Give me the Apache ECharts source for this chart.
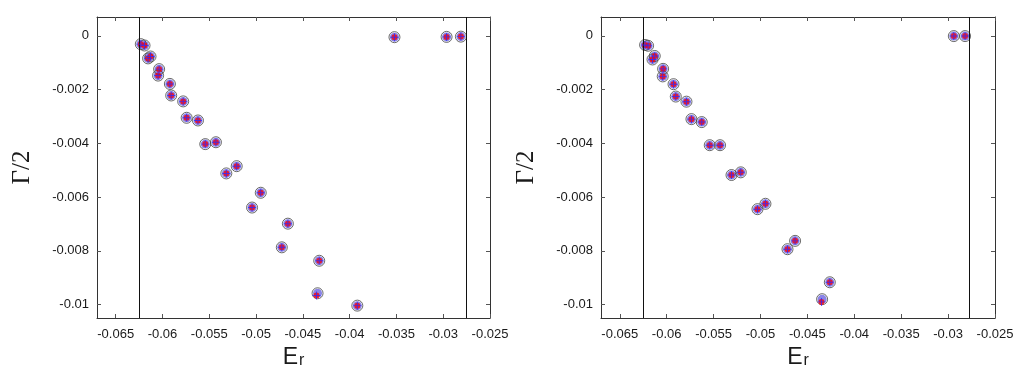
<!DOCTYPE html>
<html>
<head>
<meta charset="utf-8">
<script src="https://cdn.jsdelivr.net/npm/echarts@6/dist/echarts.min.js"></script>
<style>html,body{margin:0;padding:0;background:#fff}#c{width:1024px;height:376px}</style>
</head>
<body>
<div id="c"></div>
<script>
// ---- data ----
const leftEr = [-0.06232,-0.06192,-0.06154,-0.06128,-0.06036,-0.06047,-0.05921,-0.05907,-0.05779,-0.05742,-0.05621,-0.05543,-0.05429,-0.05318,-0.05207,-0.05043,-0.0495,-0.04725,-0.0466,-0.04354,-0.04325,-0.03918,-0.03521,-0.02964,-0.02811];
const leftG  = [-0.00031,-0.00036,-0.00084,-0.00077,-0.00124,-0.00148,-0.00179,-0.00222,-0.00244,-0.00305,-0.00315,-0.00403,-0.00396,-0.00512,-0.00485,-0.00639,-0.00584,-0.00787,-0.00699,-0.00966,-0.00837,-0.01004,-0.00005,-0.00004,-0.00003];
const leftCircEr = [-0.06232,-0.06192,-0.06154,-0.06128,-0.06036,-0.06047,-0.05921,-0.05907,-0.05779,-0.05742,-0.05621,-0.05543,-0.05429,-0.05318,-0.05207,-0.05043,-0.0495,-0.04725,-0.0466,-0.04343,-0.04325,-0.03918,-0.03521,-0.02964,-0.02811];
const leftCircG  = [-0.00031,-0.00036,-0.00084,-0.00077,-0.00124,-0.00148,-0.00179,-0.00222,-0.00244,-0.00305,-0.00315,-0.00403,-0.00396,-0.00512,-0.00485,-0.00639,-0.00584,-0.00787,-0.00699,-0.00958,-0.00837,-0.01004,-0.00005,-0.00004,-0.00003];
const rightEr = [-0.0623,-0.06198,-0.06151,-0.06127,-0.06038,-0.06042,-0.05927,-0.05903,-0.05789,-0.05736,-0.05626,-0.05541,-0.05431,-0.05309,-0.0521,-0.05032,-0.04947,-0.04712,-0.04631,-0.0435,-0.04261,-0.02939,-0.02819];
const rightG  = [-0.00034,-0.00037,-0.00088,-0.00075,-0.00123,-0.00151,-0.0018,-0.00226,-0.00245,-0.0031,-0.00321,-0.00407,-0.00407,-0.00518,-0.00508,-0.00645,-0.00625,-0.00794,-0.00763,-0.0099,-0.00917,-0.00001,-0.00001];
const rightCircEr = [-0.0623,-0.06198,-0.06151,-0.06127,-0.06038,-0.06042,-0.05927,-0.05903,-0.05789,-0.05736,-0.05626,-0.05541,-0.05431,-0.05309,-0.0521,-0.05032,-0.04947,-0.04712,-0.04631,-0.04343,-0.04261,-0.02939,-0.02819];
const rightCircG  = [-0.00034,-0.00037,-0.00088,-0.00075,-0.00123,-0.00151,-0.0018,-0.00226,-0.00245,-0.0031,-0.00321,-0.00407,-0.00407,-0.00518,-0.00508,-0.00645,-0.00625,-0.00794,-0.00763,-0.0098,-0.00917,-0.00001,-0.00001];
const vLinesLeft  = [-0.06246, -0.02757];
const vLinesRight = [-0.06252, -0.02776];
const xTicks = [-0.065,-0.06,-0.055,-0.05,-0.045,-0.04,-0.035,-0.03,-0.025];
const yTicks = [0,-0.002,-0.004,-0.006,-0.008,-0.01];
const xRange = [-0.067, -0.025];
const yRange = [-0.0105, 0.0007];

// ---- chart ----
const zip = (a,b) => a.map((v,i)=>[v,b[i]]);
const labelColor = '#1a1a1a';
const axisColor = '#333';
function xAx(gi, pos){
  const main = pos === 'bottom';
  return {
    type:'value', gridIndex:gi, position:pos, min:xRange[0], max:xRange[1],
    axisLine:{show:true,onZero:false,lineStyle:{color:axisColor,width:1}},
    axisTick:{show:true,inside:true,length:4,customValues:xTicks,lineStyle:{color:'#555'}},
    axisLabel:{show:main,customValues:xTicks,margin:10,fontFamily:'Liberation Sans, Arial',fontSize:13,color:labelColor,
      formatter:v=>String(v)},
    splitLine:{show:false},
    name: main ? '{e|E}{r|r}' : '',
    nameLocation:'middle', nameGap:18,
    nameTextStyle:{rich:{e:{fontFamily:'Liberation Sans, Arial',fontSize:23,color:labelColor,verticalAlign:'bottom'},
                         r:{fontFamily:'Liberation Sans, Arial',fontSize:16,color:labelColor,padding:[14,0,0,1]}}}
  };
}
function yAx(gi, pos){
  const main = pos === 'left';
  return {
    type:'value', gridIndex:gi, position:pos, min:yRange[0], max:yRange[1],
    axisLine:{show:true,onZero:false,lineStyle:{color:axisColor,width:1}},
    axisTick:{show:true,inside:true,length:4,customValues:yTicks,lineStyle:{color:'#555'}},
    axisLabel:{show:main,customValues:yTicks,margin:8,fontFamily:'Liberation Sans, Arial',fontSize:13,color:labelColor,
      formatter:v=>String(v)},
    splitLine:{show:false},
    name: main ? 'Γ/2' : '',
    nameLocation:'middle', nameGap:62, nameRotate:90,
    nameTextStyle:{fontFamily:'Liberation Serif, Times New Roman',fontSize:25,color:labelColor}
  };
}
const plusPath = 'path://M-0.6,-5H0.6V-0.6H5V0.6H0.6V5H-0.6V0.6H-5V-0.6H-0.6Z';
function pointSeries(xi, yi, er, g, cer, cg, vlines){
  return [
    {type:'scatter', xAxisIndex:xi, yAxisIndex:yi, data:zip(cer,cg), symbol:'circle', symbolSize:9,
     itemStyle:{color:'#8a84e6',opacity:1}, z:2, silent:true,
     markLine:{silent:true,symbol:'none',label:{show:false},animation:false,precision:6,
       lineStyle:{color:'#111',width:1,type:'solid'},
       data:vlines.map(v=>({xAxis:v}))}},
    {type:'scatter', xAxisIndex:xi, yAxisIndex:yi, data:zip(cer,cg), symbol:'circle', symbolSize:11,
     itemStyle:{color:'rgba(0,0,0,0)',borderColor:'#444',borderWidth:1}, z:3, silent:true},
    {type:'scatter', xAxisIndex:xi, yAxisIndex:yi, data:zip(er,g), symbol:'circle', symbolSize:6,
     itemStyle:{color:'#ff0000'}, z:4, silent:true},
    {type:'scatter', xAxisIndex:xi, yAxisIndex:yi, data:zip(er,g), symbol:plusPath, symbolSize:8,
     itemStyle:{color:'#2a2aff'}, z:5, silent:true}
  ];
}
const chart = echarts.init(document.getElementById('c'), null, {renderer:'canvas'});
chart.setOption({
  animation:false,
  backgroundColor:'#fff',
  grid:[
    {left:97, top:17, width:393, height:301},
    {left:601, top:17, width:394, height:301}
  ],
  xAxis:[xAx(0,'bottom'), xAx(0,'top'), xAx(1,'bottom'), xAx(1,'top')],
  yAxis:[yAx(0,'left'), yAx(0,'right'), yAx(1,'left'), yAx(1,'right')],
  series:[
    ...pointSeries(0,0,leftEr,leftG,leftCircEr,leftCircG,vLinesLeft),
    ...pointSeries(2,2,rightEr,rightG,rightCircEr,rightCircG,vLinesRight)
  ]
});
</script>
</body>
</html>
